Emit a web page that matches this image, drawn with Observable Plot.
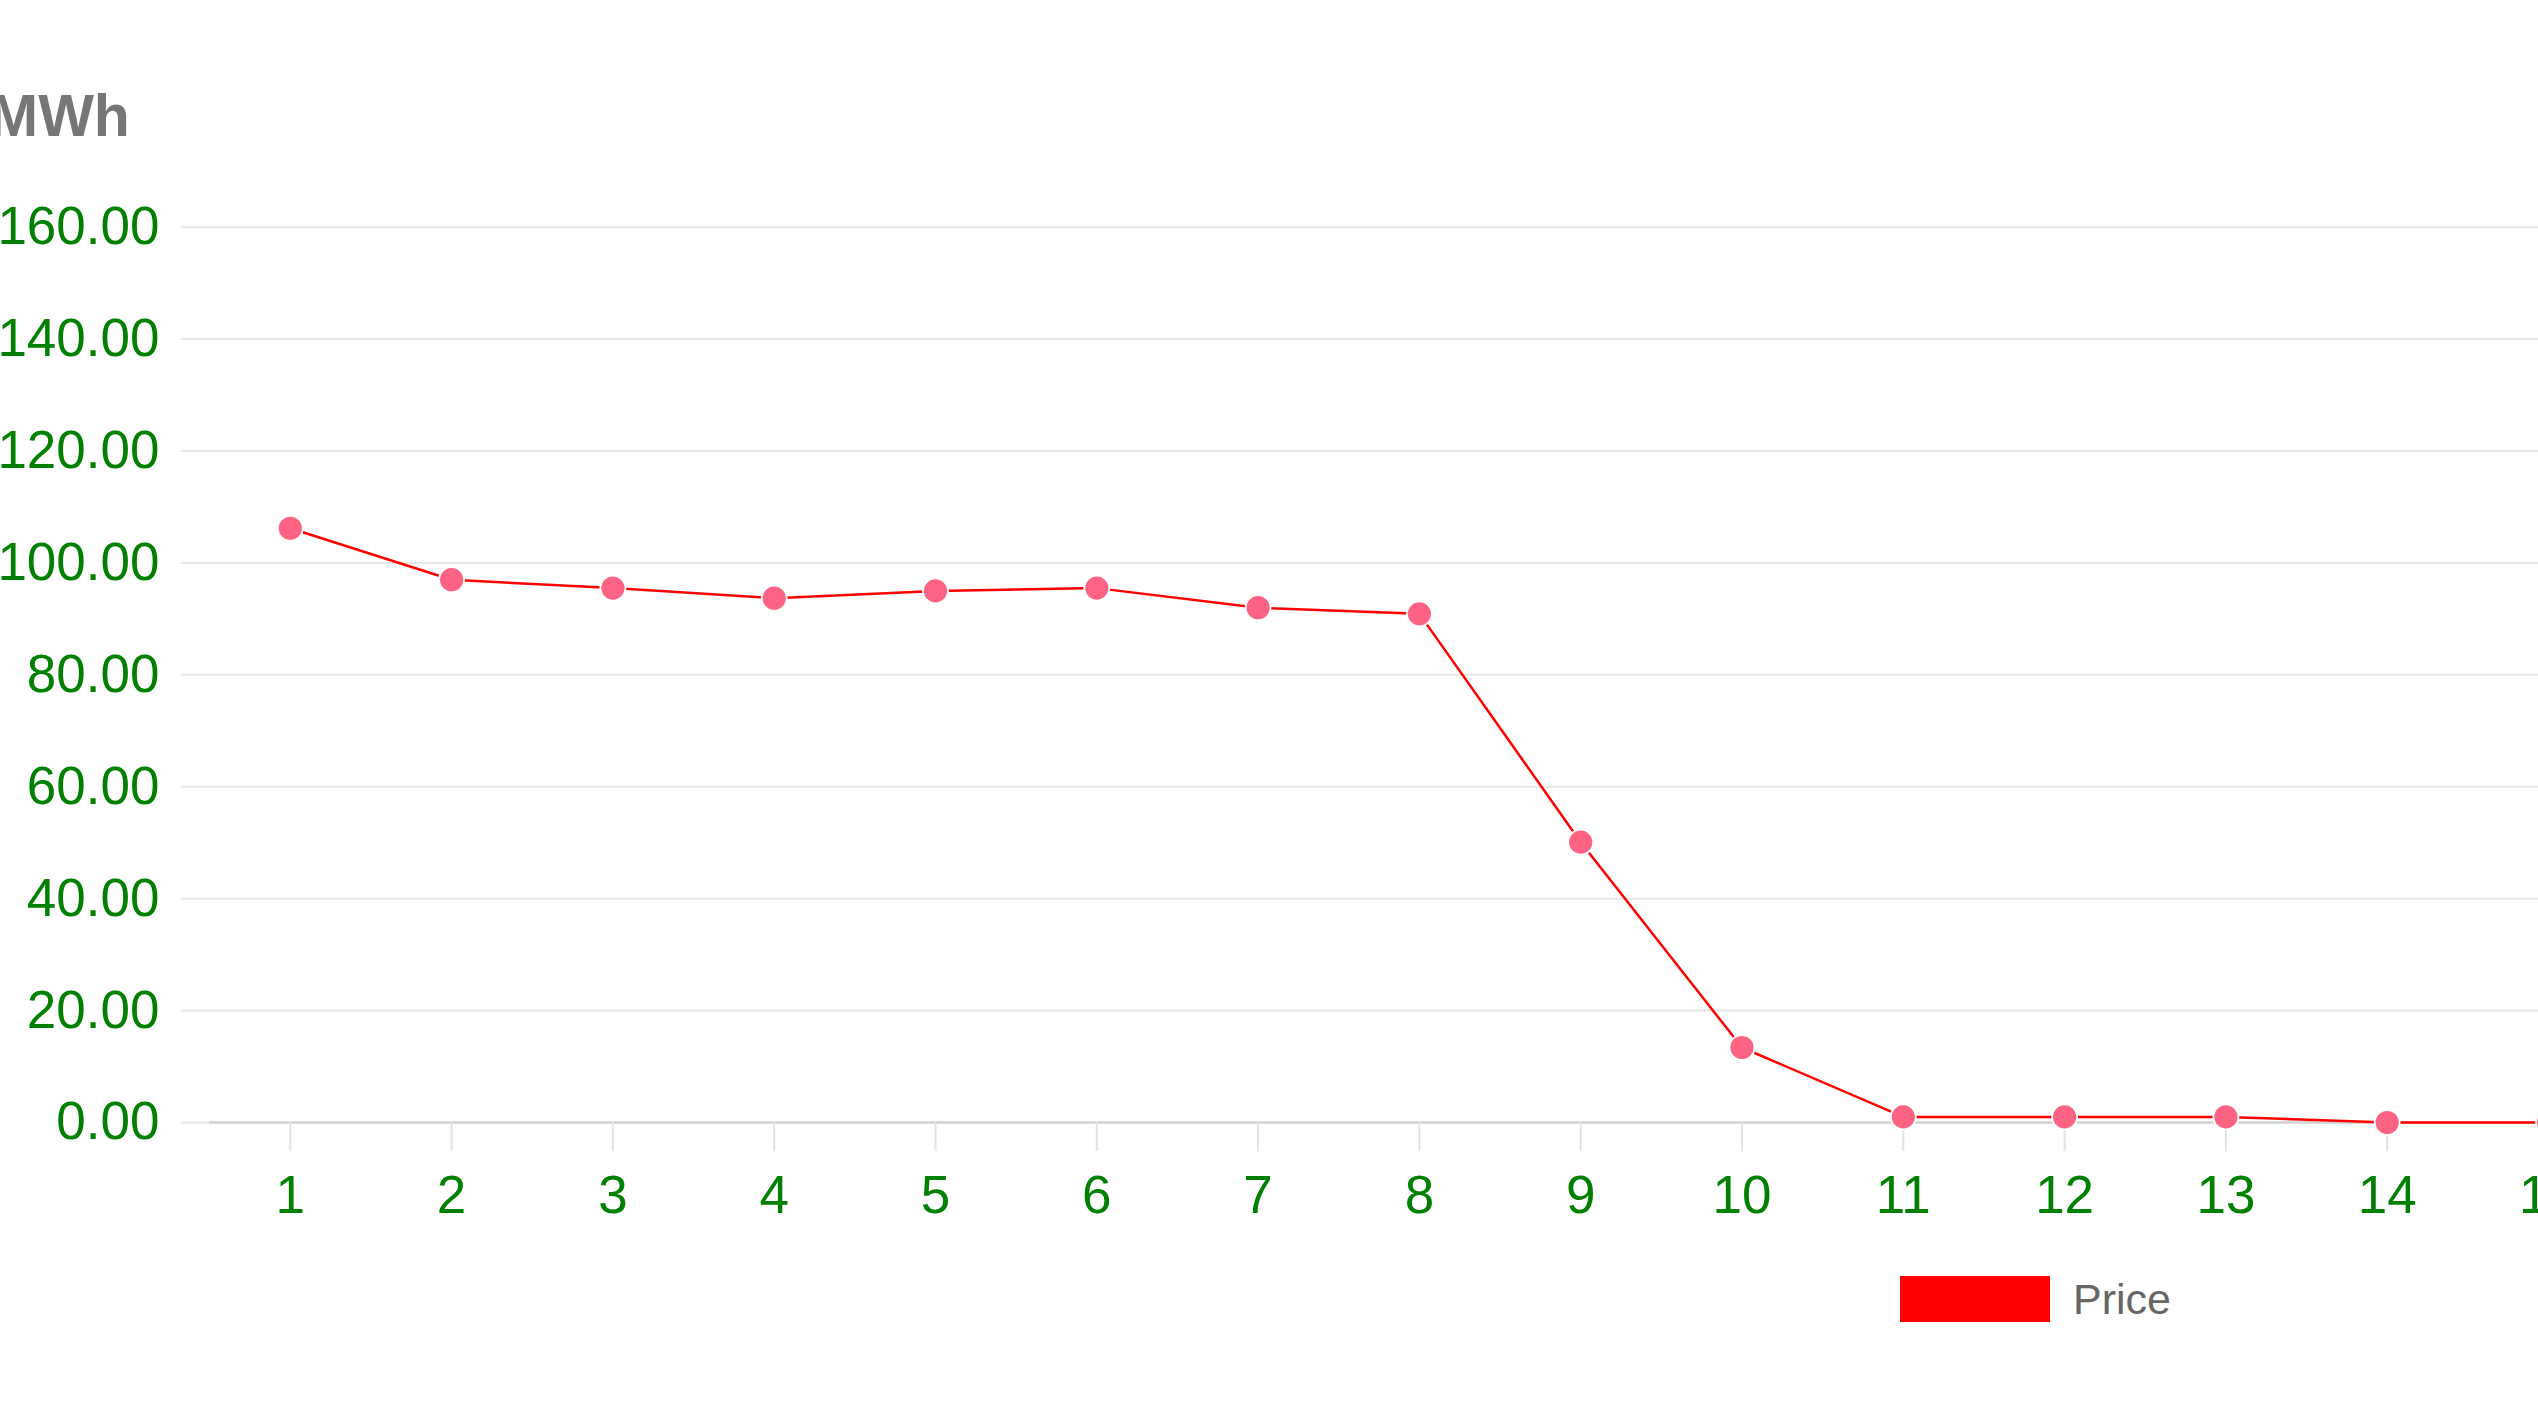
<!DOCTYPE html>
<html>
<head>
<meta charset="utf-8">
<script src="https://cdn.jsdelivr.net/npm/d3@7"></script>
<script src="https://cdn.jsdelivr.net/npm/@observablehq/plot@0.6"></script>
<style>
  html, body { margin: 0; padding: 0; background: #fff; overflow: hidden; }
  #wrap { position: relative; width: 2538px; height: 1427px; overflow: hidden; font-family: "Liberation Sans", Arial, Helvetica, sans-serif; }
  #chart { position: absolute; left: 0; top: 0; z-index: 0; }
  #unit { position: absolute; left: -11px; top: 87px; z-index: 2; font-size: 59px; line-height: 1; font-weight: bold; color: #767676; white-space: nowrap; }
  #legend { position: absolute; left: 1900px; top: 1276px; z-index: 2; display: flex; align-items: center; white-space: nowrap; }
  #legend .sw { width: 150px; height: 46px; background: #ff0000; }
  #legend .lb { margin-left: 23px; font-size: 43px; color: #666; line-height: 1; }
</style>
</head>
<body>
<div id="wrap">
  <div id="chart"></div>
  <div id="unit">MWh</div>
  <div id="legend"><div class="sw"></div><div class="lb">Price</div></div>
</div>
<script>
// Data
const hours = [1, 2, 3, 4, 5, 6, 7, 8, 9, 10, 11, 12, 13, 14, 15];
const price = [106.2, 97.0, 95.5, 93.7, 95.0, 95.5, 92.0, 90.9, 50.1, 13.4, 1.0, 1.0, 1.0, 0, 0];
const yTicks = [0, 20, 40, 60, 80, 100, 120, 140, 160];
const xTicks = hours;
const seriesName = "Price";
const unitLabel = "MWh";

const data = hours.map((h, i) => ({hour: h, price: price[i]}));

const W = 2538, H = 1250;
const chart = Plot.plot({
  width: W,
  height: H,
  marginLeft: 181,
  marginRight: 0,
  marginTop: 226.7,
  marginBottom: H - 1122,
  style: {
    fontFamily: '"Liberation Sans", Arial, Helvetica, sans-serif',
    fontSize: "53px",
    background: "transparent",
    overflow: "hidden"
  },
  x: {type: "linear", domain: [1, 15], range: [289.8, 2548]},
  y: {domain: [0, 160]},
  marks: [
    Plot.gridY(yTicks, {stroke: "#e6e6e6", strokeOpacity: 1, strokeWidth: 2}),
    Plot.ruleY([0], {x1: 0.5, x2: 16, stroke: "#d2d2d2", strokeWidth: 2.6}),
    Plot.axisY(yTicks, {
      tickSize: 0, tickPadding: 22, label: null,
      tickFormat: d3.format(".2f"), fill: "green", fontSize: 53
    }),
    Plot.axisX(xTicks, {
      tickSize: 29, tickPadding: 24, label: null,
      tickFormat: d => String(d),
      stroke: "#e3e3e3", strokeWidth: 2, fill: "green", fontSize: 53
    }),
    Plot.line(data, {x: "hour", y: "price", stroke: "red", strokeWidth: 2.5}),
    Plot.dot(data, {x: "hour", y: "price", r: 12.5, fill: "#ff6384", stroke: "white", strokeWidth: 1.8})
  ]
});
document.getElementById("chart").appendChild(chart);
document.getElementById("unit").textContent = unitLabel;
document.querySelector("#legend .lb").textContent = seriesName;
</script>
</body>
</html>
